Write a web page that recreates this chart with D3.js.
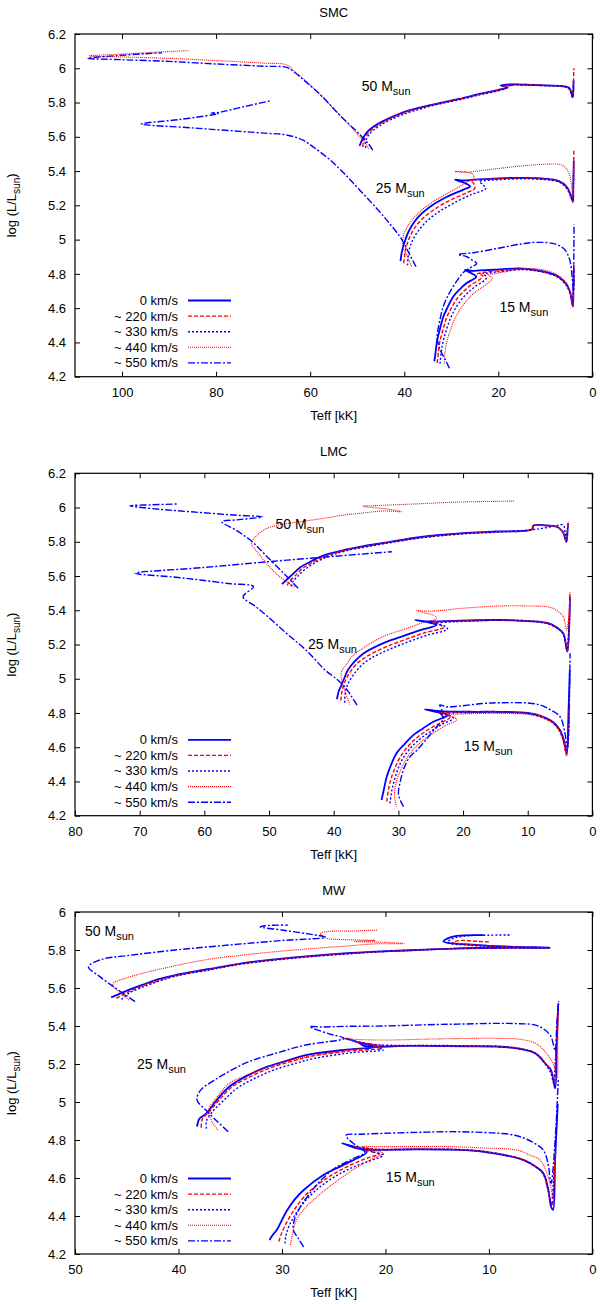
<!DOCTYPE html>
<html>
<head>
<meta charset="utf-8">
<script src="https://cdn.jsdelivr.net/npm/d3@7"></script>
<style>
body{margin:0;background:#fff;}
svg text{font-family:"Liberation Sans",Arial,sans-serif;fill:#000;}
</style>
</head>
<body>
<div id="chart"></div>
<script>
// rotation rates, one series per rate in every track list below
const speeds = ["0 km/s", "~ 220 km/s", "~ 330 km/s", "~ 440 km/s", "~ 550 km/s"];
const massNames = ["50", "25", "15"];

// tick values
const yTicksCloud = [4.2,4.4,4.6,4.8,5.0,5.2,5.4,5.6,5.8,6.0,6.2];
const yTicksMW = [4.2,4.4,4.6,4.8,5.0,5.2,5.4,5.6,5.8,6.0];
const xTicksSMC = [0,20,40,60,80,100];
const xTicksLMC = [0,10,20,30,40,50,60,70,80];
const xTicksMW = [0,10,20,30,40,50];

// ---- SMC tracks [Teff kK, log L] ----
const smc50 = [
 [[49.5,5.546],[49.0,5.58],[48.0,5.625],[46.5,5.66],[44.6,5.69],[40.5,5.74],[36.5,5.772],[32,5.80],[28.3,5.821],[24,5.85],[20.2,5.873],[18.0,5.888],[19.5,5.90],[17.5,5.906],[15,5.905],[10,5.90],[6,5.895],[4.9,5.885],[4.4,5.85],[4.2,5.83],[4.05,5.87],[4.0,5.93]],
 [[48.8,5.54],[48.6,5.58],[47.6,5.625],[46.0,5.66],[44.2,5.69],[40.2,5.738],[36.2,5.77],[32,5.798],[28.2,5.82],[24,5.848],[20,5.872],[18.3,5.885],[19.0,5.90],[17.8,5.898],[16,5.905],[10,5.90],[6,5.893],[4.9,5.88],[4.4,5.845],[4.2,5.83],[4.05,5.9],[3.95,6.0]],
 [[48.2,5.535],[48.2,5.575],[47.3,5.62],[45.7,5.655],[44.0,5.685],[40,5.733],[36,5.767],[32,5.795],[28,5.818],[24,5.845],[20,5.868],[18.5,5.882],[17.0,5.905],[15.5,5.90],[14,5.902],[10,5.898],[6,5.892],[4.9,5.878],[4.4,5.84],[4.25,5.83],[4.1,5.86],[4.05,5.9]],
 [[47.5,5.53],[48.3,5.56],[49.5,5.60],[51.5,5.665],[54,5.735],[56.8,5.815],[59,5.875],[61.1,5.93],[63.5,5.985],[65,6.02],[70,6.03],[80,6.045],[90,6.058],[100,6.066],[107,6.072],[100,6.083],[92,6.095],[85.7,6.103]],
 [[46.7,5.523],[47.5,5.555],[49,5.60],[51,5.655],[53.5,5.72],[55.4,5.776],[58,5.85],[61.1,5.925],[63.5,5.98],[65,6.005],[70,6.012],[80,6.025],[90,6.04],[100,6.05],[107.3,6.058],[101,6.074],[95,6.085],[91.5,6.09]]
];
const smc25 = [
 [[40.8,4.875],[40.5,4.93],[40.0,4.98],[39.1,5.046],[37.3,5.124],[34.5,5.192],[30.9,5.25],[27.4,5.292],[26.0,5.31],[27.6,5.335],[29.2,5.35],[27.5,5.345],[25,5.35],[20,5.358],[15,5.36],[10,5.355],[7,5.34],[5.5,5.31],[4.6,5.26],[4.15,5.22],[4.05,5.32],[3.95,5.46]],
 [[40.1,4.862],[39.8,4.93],[39.2,4.99],[38.1,5.055],[36.2,5.12],[33.4,5.18],[29.9,5.235],[26.6,5.275],[25.0,5.30],[25.3,5.33],[26.0,5.345],[24.8,5.35],[22,5.352],[20,5.355],[15,5.358],[10,5.353],[7,5.338],[5.5,5.305],[4.6,5.255],[4.2,5.22],[4.05,5.35],[3.95,5.52]],
 [[39.3,4.85],[39.1,4.92],[38.5,4.98],[37.3,5.04],[35.3,5.105],[32.5,5.165],[29,5.22],[25.8,5.262],[23.5,5.285],[22.6,5.30],[23.3,5.32],[24,5.34],[22.5,5.345],[20,5.35],[15,5.355],[10,5.35],[7,5.335],[5.5,5.30],[4.6,5.25],[4.2,5.225],[4.05,5.3],[4.0,5.38]],
 [[38.5,4.845],[39.3,4.90],[40.3,4.96],[40.2,5.02],[39.0,5.09],[36.8,5.16],[34.5,5.21],[31.5,5.26],[28.5,5.305],[26.4,5.34],[25.5,5.35],[25.2,5.375],[26.5,5.393],[29.2,5.397],[27,5.393],[25,5.398],[20,5.415],[15,5.43],[10,5.44],[6.5,5.435],[5.2,5.40],[4.5,5.33],[4.15,5.25],[4.0,5.35],[3.95,5.48]],
 [[37.5,4.842],[38.8,4.91],[40.5,5.0],[43,5.09],[45.8,5.18],[49.5,5.29],[52.8,5.387],[56,5.47],[59.3,5.54],[61.5,5.58],[63.4,5.60],[66,5.615],[69,5.62],[75,5.632],[85,5.652],[95.9,5.675],[88,5.70],[81,5.727],[79.5,5.735],[81,5.738],[79,5.744],[75,5.77],[68.5,5.81]]
];
const smc15 = [
 [[33.6,4.29],[33.3,4.35],[33.0,4.414],[32.4,4.48],[31.7,4.55],[30.7,4.61],[29.6,4.667],[28.2,4.71],[26.8,4.745],[24.7,4.784],[25.8,4.805],[27.1,4.823],[25.5,4.818],[24,4.82],[20.4,4.825],[15.4,4.832],[12,4.822],[9,4.805],[7.2,4.784],[5.5,4.74],[4.7,4.69],[4.15,4.61],[4.05,4.7],[4.0,4.82]],
 [[33.0,4.28],[32.7,4.35],[32.4,4.41],[31.7,4.48],[31.0,4.545],[30,4.60],[28.8,4.655],[27.3,4.70],[25.8,4.735],[23.6,4.775],[23.3,4.79],[24.4,4.80],[23.2,4.808],[20,4.818],[15,4.828],[12,4.82],[9,4.80],[7.2,4.78],[5.5,4.735],[4.7,4.685],[4.15,4.61],[4.0,4.75],[3.95,4.86]],
 [[32.4,4.276],[32.1,4.35],[31.7,4.41],[31.0,4.475],[30.2,4.54],[29.2,4.595],[28,4.645],[26.5,4.69],[25,4.725],[22.8,4.765],[22.5,4.785],[23.4,4.80],[22,4.805],[20,4.812],[15,4.825],[12,4.818],[9,4.80],[7.2,4.778],[5.5,4.73],[4.7,4.68],[4.2,4.62],[4.05,4.7],[4.0,4.78]],
 [[31.5,4.276],[31.3,4.35],[30.9,4.41],[30.2,4.47],[29.4,4.53],[28.3,4.585],[27,4.635],[25.5,4.68],[23.8,4.715],[21.8,4.755],[21.3,4.775],[22.2,4.795],[21,4.80],[18,4.815],[15,4.83],[12,4.83],[9,4.815],[7.2,4.79],[5.5,4.745],[4.7,4.69],[4.15,4.62],[4.0,4.72],[3.95,4.85]],
 [[30.4,4.249],[31.3,4.30],[32.4,4.36],[33.0,4.43],[32.5,4.52],[31.7,4.61],[30.6,4.68],[29.6,4.726],[28.4,4.775],[27.4,4.81],[26.0,4.835],[24.6,4.861],[25.8,4.885],[26.7,4.90],[28.5,4.914],[27.5,4.918],[25,4.925],[20,4.95],[15,4.975],[12,4.984],[8,4.975],[6,4.945],[4.8,4.88],[4.3,4.78],[4.0,4.70],[3.95,4.9],[3.9,5.09]]
];

// ---- LMC tracks ----
const lmc50 = [
 [[48.0,5.552],[47.4,5.575],[46.5,5.605],[45.2,5.65],[43.3,5.69],[41.3,5.723],[38,5.755],[35.4,5.775],[32,5.795],[29.7,5.81],[26.5,5.828],[20,5.85],[15,5.86],[9.3,5.873],[9.1,5.895],[7,5.895],[5.5,5.888],[4.6,5.86],[4.0,5.80],[3.85,5.86],[3.75,5.91]],
 [[47.2,5.545],[46.8,5.57],[46.0,5.60],[44.8,5.645],[43.0,5.686],[41.0,5.72],[38,5.752],[35.2,5.772],[32,5.793],[29.5,5.808],[26.3,5.826],[20,5.848],[15,5.858],[9.4,5.872],[9.2,5.893],[7,5.893],[5.5,5.886],[4.6,5.857],[4.05,5.80],[3.85,5.87],[3.7,5.92]],
 [[46.6,5.54],[46.3,5.568],[45.6,5.597],[44.4,5.64],[42.7,5.682],[40.7,5.716],[38,5.748],[35,5.77],[32,5.79],[29.4,5.806],[26.2,5.824],[20,5.846],[15,5.856],[9.5,5.87],[7.5,5.88],[5.5,5.895],[4.5,5.898],[4.2,5.85],[4.05,5.82],[3.9,5.86]],
 [[46.0,5.535],[47.0,5.56],[48.5,5.60],[50.3,5.67],[51.8,5.74],[52.7,5.791],[51.8,5.84],[50.3,5.879],[47.5,5.905],[45.2,5.917],[41,5.94],[38.3,5.957],[35,5.97],[32.4,5.98],[29.5,5.976],[31.5,5.99],[35.5,6.008],[33,6.012],[28,6.02],[20.6,6.032],[15,6.036],[12.0,6.038]],
 [[45.5,5.528],[46.8,5.58],[48.5,5.645],[50.3,5.713],[51.5,5.76],[52.9,5.81],[55,5.865],[57.3,5.917],[55,5.928],[51.0,5.946],[55,5.955],[62,5.975],[67,5.99],[71.5,6.01],[68,6.016],[64.0,6.021]]
];
const lmc25 = [
 [[39.5,4.88],[39.2,4.93],[38.9,4.954],[38.4,5.00],[37.8,5.051],[36.8,5.10],[35.4,5.148],[32.4,5.207],[29.5,5.246],[26.5,5.285],[24.1,5.314],[25.5,5.33],[27.4,5.343],[25.5,5.335],[23,5.336],[20.6,5.34],[14.3,5.343],[11.7,5.34],[7.0,5.326],[5.5,5.30],[4.5,5.265],[3.88,5.158],[3.6,5.3],[3.46,5.48]],
 [[38.9,4.872],[38.7,4.93],[38.3,4.98],[37.6,5.03],[36.5,5.085],[34.9,5.13],[32,5.185],[29,5.228],[26,5.268],[23.0,5.30],[23.6,5.315],[24.7,5.33],[23.5,5.333],[20,5.338],[14.3,5.342],[10,5.338],[7,5.324],[5.5,5.298],[4.5,5.262],[3.9,5.16],[3.6,5.3],[3.5,5.5]],
 [[38.3,4.86],[38.2,4.92],[37.8,4.97],[37.0,5.02],[35.8,5.075],[34.2,5.12],[31.5,5.17],[28.5,5.215],[25.5,5.255],[22.4,5.29],[23.0,5.31],[24.3,5.325],[22.5,5.33],[20,5.335],[14.3,5.342],[10,5.338],[7,5.322],[5.5,5.296],[4.5,5.26],[3.95,5.17],[3.7,5.25],[3.6,5.35]],
 [[37.5,4.85],[38.2,4.92],[38.8,5.0],[38.8,5.04],[38.0,5.085],[37.2,5.129],[35,5.19],[32.4,5.246],[29,5.29],[26.5,5.324],[24.1,5.353],[24.5,5.37],[26.0,5.385],[27.2,5.40],[26,5.395],[23,5.40],[20.6,5.41],[14.3,5.425],[10,5.425],[6.55,5.417],[5.2,5.39],[4.5,5.362],[3.97,5.285],[3.6,5.4],[3.46,5.51]],
 [[36.4,4.846],[37.3,4.90],[38.3,4.954],[39.6,5.00],[41.3,5.05],[44.3,5.168],[47.3,5.265],[50.2,5.363],[52.0,5.42],[54.0,5.479],[52.4,5.538],[56,5.555],[60.7,5.577],[65,5.595],[70.7,5.616],[60,5.65],[50,5.684],[40,5.715],[31.0,5.742]]
];
const lmc15 = [
 [[32.6,4.292],[32.2,4.36],[31.8,4.428],[31.1,4.50],[30.3,4.564],[29.0,4.62],[27.7,4.671],[26.2,4.71],[24.6,4.749],[22.3,4.788],[24.0,4.805],[25.9,4.821],[24,4.812],[22,4.808],[17.9,4.807],[14.3,4.807],[10,4.80],[7.6,4.778],[6,4.745],[5.0,4.70],[4.4,4.64],[3.97,4.564],[3.7,4.8],[3.5,5.05]],
 [[31.8,4.282],[31.5,4.36],[31.1,4.42],[30.4,4.49],[29.6,4.55],[28.4,4.61],[27.0,4.66],[25.3,4.705],[23.6,4.74],[22.0,4.775],[22.6,4.79],[23.8,4.80],[22,4.803],[18,4.805],[14.3,4.805],[10,4.798],[7.6,4.776],[6,4.74],[5.0,4.695],[4.4,4.63],[4.0,4.56],[3.7,4.7],[3.55,4.85]],
 [[31.3,4.272],[31.0,4.35],[30.6,4.41],[30.0,4.48],[29.2,4.54],[28,4.60],[26.6,4.65],[24.9,4.695],[23.2,4.735],[21.5,4.769],[22.2,4.785],[23.3,4.795],[21.5,4.80],[18,4.802],[14.3,4.803],[10,4.795],[7.6,4.772],[6,4.74],[5.0,4.69],[4.4,4.625],[4.0,4.56],[3.7,4.65],[3.6,4.75]],
 [[30.3,4.253],[30.6,4.32],[30.3,4.40],[29.6,4.47],[28.8,4.53],[27.6,4.59],[26.2,4.64],[24.5,4.685],[22.8,4.725],[21.0,4.76],[21.6,4.78],[22.8,4.79],[21,4.793],[18,4.797],[15.3,4.798],[10,4.792],[7.6,4.77],[6,4.735],[5.0,4.685],[4.4,4.62],[4.0,4.55],[3.7,4.7],[3.55,4.86]],
 [[29.2,4.253],[29.7,4.29],[30.0,4.331],[29.7,4.40],[29.2,4.47],[28.3,4.54],[27.1,4.584],[25.6,4.65],[24.3,4.71],[23.6,4.739],[23.0,4.77],[23.5,4.80],[23.3,4.817],[23.6,4.847],[22.5,4.835],[20.6,4.84],[17,4.855],[14.3,4.86],[10,4.858],[8.1,4.847],[6.4,4.817],[5.0,4.778],[4.24,4.681],[3.9,4.6],[3.55,4.9],[3.46,5.149]]
];

// ---- MW tracks ----
const mw50 = [
 [[46.5,5.551],[45.2,5.581],[43.5,5.616],[42,5.645],[40.3,5.668],[37,5.70],[33.9,5.73],[30.5,5.752],[27.4,5.768],[24,5.782],[21.0,5.791],[17,5.80],[12.9,5.809],[8,5.812],[4.1,5.812],[8,5.818],[11,5.826],[14.4,5.845],[13.8,5.865],[13.1,5.874],[11,5.878],[10.5,5.878]],
 [[46.0,5.545],[45.0,5.575],[43.4,5.612],[40.3,5.665],[37,5.698],[33.9,5.728],[30.5,5.75],[27.4,5.766],[24,5.78],[21,5.79],[17,5.80],[12.9,5.808],[8,5.811],[4.1,5.811],[8,5.816],[11.5,5.826],[13.5,5.84],[12.8,5.85],[11,5.845],[10,5.843]],
 [[45.5,5.54],[44.8,5.572],[43.3,5.608],[40.3,5.662],[37,5.695],[33.9,5.726],[30.5,5.748],[27.4,5.764],[24,5.778],[21,5.789],[17,5.799],[12.9,5.807],[8,5.81],[4.1,5.81],[8,5.815],[12,5.825],[14.0,5.84],[13.5,5.86],[12,5.875],[10,5.878],[8.0,5.879]],
 [[44.8,5.537],[45.5,5.57],[46.3,5.61],[46.3,5.625],[45.2,5.65],[43.5,5.677],[40.5,5.715],[37.1,5.751],[34,5.772],[30.7,5.791],[27,5.808],[24,5.82],[21,5.832],[18.2,5.834],[20,5.84],[23,5.845],[21,5.85],[24,5.855],[25.7,5.862],[26.3,5.885],[25.8,5.896],[23,5.90],[20.8,5.905]],
 [[44.2,5.528],[45.3,5.57],[46.5,5.615],[47.6,5.66],[48.7,5.712],[47.4,5.751],[45,5.77],[40.3,5.80],[37,5.817],[33.9,5.832],[30,5.85],[25.8,5.867],[27.5,5.885],[30,5.905],[32.1,5.922],[31,5.93],[29.4,5.931]]
];
const mw25 = [
 [[38.2,4.87],[38.0,4.91],[37.3,4.94],[36.3,5.01],[35.1,5.08],[33.3,5.14],[31.4,5.186],[29.5,5.218],[27.7,5.247],[24.0,5.274],[20.8,5.291],[22.3,5.31],[23.8,5.335],[22.5,5.31],[22.1,5.295],[18,5.295],[16.6,5.295],[12,5.293],[9.2,5.291],[7,5.28],[5.5,5.256],[4.5,5.20],[4.0,5.168],[3.6,5.072],[3.45,5.3],[3.3,5.52]],
 [[37.8,4.865],[37.7,4.91],[37.0,4.95],[36.0,5.015],[34.8,5.08],[33,5.135],[31.1,5.18],[29,5.215],[27.2,5.24],[23.5,5.268],[20.3,5.283],[21.5,5.30],[23,5.32],[21.5,5.305],[20,5.297],[16.6,5.297],[12,5.295],[9.2,5.293],[7,5.282],[5.5,5.258],[4.5,5.20],[4.0,5.16],[3.7,5.10],[3.5,5.3],[3.35,5.48]],
 [[37.3,4.86],[37.3,4.90],[36.7,4.95],[35.6,5.01],[34.4,5.07],[32.6,5.125],[30.7,5.17],[28.6,5.205],[26.8,5.23],[23.2,5.26],[20.2,5.275],[21.2,5.295],[22.6,5.315],[21,5.302],[19,5.298],[16.6,5.298],[12,5.296],[9.2,5.293],[7,5.28],[5.5,5.255],[4.5,5.195],[4.0,5.15],[3.75,5.10],[3.6,5.2],[3.5,5.3]],
 [[36.2,4.853],[36.8,4.90],[37.1,4.958],[36.2,5.03],[35.1,5.098],[33,5.15],[30.5,5.20],[27.7,5.238],[24.5,5.265],[22,5.285],[20.5,5.29],[22,5.31],[24.2,5.335],[23,5.33],[20.3,5.326],[15,5.332],[9.2,5.335],[7,5.33],[5.5,5.309],[4.5,5.26],[3.8,5.203],[3.4,5.125],[3.35,5.3],[3.3,5.47]],
 [[35.2,4.844],[36.3,4.90],[37.4,4.96],[38.2,5.01],[37.9,5.06],[36.5,5.116],[34.8,5.17],[33.2,5.212],[30.5,5.258],[27.7,5.30],[24.0,5.335],[25.5,5.36],[27.3,5.396],[26.0,5.395],[24,5.398],[20.3,5.40],[15,5.408],[12.9,5.41],[9.2,5.414],[7,5.412],[5.5,5.405],[4.6,5.38],[4.0,5.344],[3.6,5.27],[3.45,5.4],[3.25,5.53]]
];
const mw15 = [
 [[31.2,4.274],[30.9,4.30],[30.5,4.326],[30.0,4.38],[29.5,4.43],[28.8,4.485],[27.9,4.537],[26.0,4.616],[24.1,4.668],[21.8,4.738],[23.0,4.76],[24.2,4.783],[23,4.765],[21.8,4.75],[19,4.749],[17,4.751],[13,4.748],[10.5,4.738],[8.5,4.72],[6.7,4.695],[5.5,4.66],[4.74,4.625],[4.26,4.537],[4.0,4.45],[3.8,4.432],[3.6,4.7],[3.35,4.99]],
 [[30.3,4.265],[30.1,4.30],[29.7,4.35],[29.2,4.40],[28.6,4.45],[27.8,4.505],[26.8,4.555],[25.2,4.615],[23.5,4.665],[21.5,4.71],[20.6,4.725],[21.8,4.745],[23.0,4.765],[21.5,4.752],[19,4.75],[17,4.752],[13,4.75],[10.5,4.74],[8.5,4.722],[6.7,4.697],[5.5,4.66],[4.74,4.62],[4.26,4.53],[3.9,4.45],[3.7,4.6],[3.55,4.75]],
 [[29.7,4.255],[29.6,4.30],[29.3,4.35],[28.8,4.40],[28.2,4.45],[27.4,4.50],[26.4,4.55],[24.8,4.61],[23.0,4.66],[21.0,4.70],[20.2,4.72],[21.3,4.74],[22.5,4.76],[21,4.752],[19,4.75],[17,4.751],[13,4.75],[10.5,4.74],[8.5,4.722],[6.7,4.695],[5.5,4.66],[4.74,4.62],[4.3,4.54],[3.95,4.46],[3.8,4.55],[3.7,4.65]],
 [[29.2,4.247],[29.0,4.30],[28.6,4.379],[27.8,4.44],[26.6,4.502],[25.4,4.555],[24.1,4.607],[22.8,4.655],[21.5,4.695],[20.2,4.73],[21,4.745],[22.3,4.765],[21,4.765],[17,4.765],[13.8,4.765],[10.5,4.758],[7.3,4.747],[6,4.72],[5.06,4.695],[4.5,4.64],[4.0,4.55],[3.85,4.49],[3.7,4.6],[3.6,4.72]],
 [[27.9,4.238],[28.4,4.28],[28.9,4.326],[28.8,4.38],[28.2,4.45],[27.3,4.52],[26.2,4.59],[24.9,4.651],[23.2,4.70],[22.0,4.735],[22.8,4.77],[23.5,4.80],[23.8,4.826],[22.5,4.83],[20.2,4.835],[17,4.84],[13.8,4.844],[10.5,4.84],[8.9,4.835],[7.5,4.825],[6.35,4.804],[5.5,4.78],[4.74,4.747],[4.3,4.68],[4.0,4.572],[3.6,4.8],[3.3,5.116]]
];

// line look per rotation rate (gnuplot-like)
var lineStyles = [
  {color:"#0000ff", width:1.8, dash:null},
  {color:"#ff0000", width:1.4, dash:"4,2"},
  {color:"#0000ff", width:1.4, dash:"2,2"},
  {color:"#ff0000", width:1.1, dash:"1,1"},
  {color:"#0000ff", width:1.4, dash:"7,2,2,2"}
];

var W = 600, H = 1304, left = 75, right = 592.4;

var svg = d3.select("#chart").append("svg")
    .attr("width", W).attr("height", H)
    .attr("viewBox", "0 0 " + W + " " + H);

function drawPanel(p) {
    var x = d3.scaleLinear().domain([p.xmax, 0]).range([left, right]);
    var y = d3.scaleLinear().domain([4.2, p.ymax]).range([p.bottom, p.top]);
    var g = svg.append("g").attr("id", "panel" + p.id);

    // title
    g.append("text").attr("x", (left + right) / 2).attr("y", p.top - 17)
        .attr("text-anchor", "middle").attr("font-size", 13).text(p.title);

    // axes (gnuplot style: inward ticks, mirrored)
    var ax = g.append("g").attr("transform", "translate(0," + p.bottom + ")")
        .call(d3.axisBottom(x).tickValues(p.xticks).tickSizeInner(-5).tickSizeOuter(0).tickPadding(11));
    var axt = g.append("g").attr("transform", "translate(0," + p.top + ")")
        .call(d3.axisTop(x).tickValues(p.xticks).tickSizeInner(-5).tickSizeOuter(0).tickFormat(""));
    var ay = g.append("g").attr("transform", "translate(" + left + ",0)")
        .call(d3.axisLeft(y).tickValues(p.yticks).tickSizeInner(-5).tickSizeOuter(0).tickPadding(9)
            .tickFormat(d => (+d.toFixed(1)).toString()));
    var ayr = g.append("g").attr("transform", "translate(" + right + ",0)")
        .call(d3.axisRight(y).tickValues(p.yticks).tickSizeInner(-5).tickSizeOuter(0).tickFormat(""));
    [ax, axt, ay, ayr].forEach(function(a) {
        a.select(".domain").remove();
        a.selectAll("text").attr("font-size", 13).attr("font-family", '"Liberation Sans",Arial,sans-serif');
        a.selectAll("line").attr("stroke", "#000");
    });

    // axis labels
    g.append("text").attr("x", (left + right) / 2).attr("y", p.bottom + 43)
        .attr("text-anchor", "middle").attr("font-size", 13).text("Teff [kK]");
    var yl = g.append("text")
        .attr("transform", "translate(16," + (p.top + p.bottom) / 2 + ") rotate(-90)")
        .attr("text-anchor", "middle").attr("font-size", 13);
    yl.append("tspan").text("log (L/L");
    yl.append("tspan").attr("dy", 4).attr("font-size", 10).text("sun");
    yl.append("tspan").attr("dy", -4).text(")");

    // clip
    g.append("clipPath").attr("id", "clip" + p.id).append("rect")
        .attr("x", left).attr("y", p.top).attr("width", right - left).attr("height", p.bottom - p.top);

    var line = d3.line().x(d => x(d[0])).y(d => y(d[1])).curve(d3.curveCatmullRom.alpha(0.5));
    var plot = g.append("g").attr("clip-path", "url(#clip" + p.id + ")");

    // series by rotation rate, each over the three masses
    speeds.forEach(function(s, i) {
        var st = lineStyles[i];
        plot.append("g").attr("class", "speed" + i).selectAll("path")
            .data(p.tracks.map(m => m[i])).enter().append("path")
            .attr("d", line)
            .attr("fill", "none")
            .attr("stroke", st.color)
            .attr("stroke-width", st.width)
            .attr("stroke-dasharray", st.dash)
            .attr("stroke-linejoin", "round");
    });

    // mass labels
    p.labels.forEach(function(l, i) {
        var t = g.append("text").attr("x", x(l[0])).attr("y", y(l[1])).attr("font-size", 14);
        t.append("tspan").text(massNames[i] + " M");
        t.append("tspan").attr("dy", 4).attr("font-size", 11).text("sun");
    });

    // legend
    var leg = g.append("g").attr("transform", "translate(0," + (p.top + 266.5) + ")");
    speeds.forEach(function(s, i) {
        var st = lineStyles[i];
        var yy = i * 15.6;
        leg.append("text").attr("x", 178).attr("y", yy + 4.5)
            .attr("text-anchor", "end").attr("font-size", 13).text(s);
        leg.append("line").attr("x1", 188).attr("x2", 231).attr("y1", yy).attr("y2", yy)
            .attr("stroke", st.color).attr("stroke-width", st.width)
            .attr("stroke-dasharray", st.dash);
    });

    // frame
    g.append("rect").attr("x", left).attr("y", p.top)
        .attr("width", right - left).attr("height", p.bottom - p.top)
        .attr("fill", "none").attr("stroke", "#000").attr("stroke-width", 1.2);
}

drawPanel({id: "smc", title: "SMC", top: 34, bottom: 376.7, xmax: 110, ymax: 6.2,
    xticks: xTicksSMC, yticks: yTicksCloud, tracks: [smc50, smc25, smc15],
    labels: [[49.05, 5.869], [46.05, 5.274], [19.77, 4.576]]});
drawPanel({id: "lmc", title: "LMC", top: 473.3, bottom: 815.7, xmax: 80, ymax: 6.2,
    xticks: xTicksLMC, yticks: yTicksCloud, tracks: [lmc50, lmc25, lmc15],
    labels: [[49.0, 5.876], [43.97, 5.174], [19.88, 4.578]]});
drawPanel({id: "mw", title: "MW", top: 912, bottom: 1254, xmax: 50, ymax: 6.0,
    xticks: xTicksMW, yticks: yTicksMW, tracks: [mw50, mw25, mw15],
    labels: [[49.03, 5.875], [44.0, 5.174], [19.96, 4.579]]});
</script>
</body>
</html>
